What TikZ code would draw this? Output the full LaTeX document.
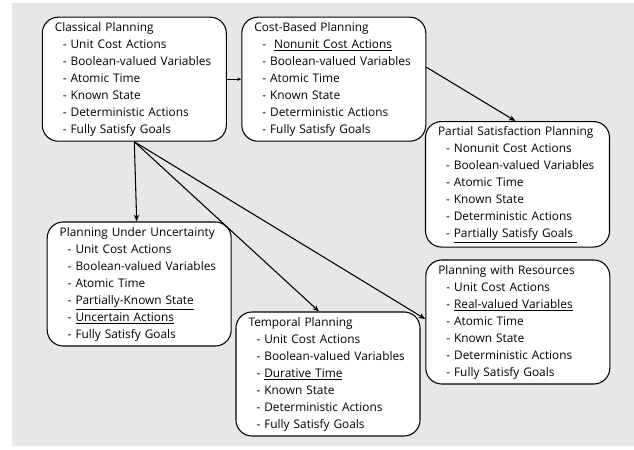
\documentclass[tikz,border=0pt]{standalone}
\usepackage{fontspec}
\setmainfont{Open Sans}
\usetikzlibrary{arrows.meta,calc}
\definecolor{bggray}{HTML}{E6E7E8}
\newcommand{\itm}[1]{\hspace*{6pt}-\ #1}
\tikzset{
  planbox/.style={draw, line width=0.8pt, fill=white, rounded corners=12pt,
    minimum height=93pt, text width=119.2pt, inner xsep=9.4pt, align=left,
    font=\fontsize{8.9}{12.75}\selectfont},
  conn/.style={line width=0.8pt, -{Stealth[length=5pt,width=4pt]}},
  thinconn/.style={line width=0.5pt, -{Stealth[length=3pt,width=2.5pt]}}
}
\begin{document}
\begin{tikzpicture}[x=0.75pt,y=-0.75pt]
\useasboundingbox (0,0) rectangle (634,449);
\fill[bggray] (12,3) rectangle (634,446);

\node[planbox] (cp) at (134.3,79.2) {Classical Planning\\
\itm{Unit Cost Actions}\\
\itm{Boolean-valued Variables}\\
\itm{Atomic Time}\\
\itm{Known State}\\
\itm{Deterministic Actions}\\
\itm{Fully Satisfy Goals}};

\node[planbox] (cb) at (333.8,79.2) {Cost-Based Planning\\
\itm{\ \underline{Nonunit Cost Actions}}\\
\itm{Boolean-valued Variables}\\
\itm{Atomic Time}\\
\itm{Known State}\\
\itm{Deterministic Actions}\\
\itm{Fully Satisfy Goals}};

\node[planbox] (ps) at (517.5,184.3) {Partial Satisfaction Planning\\
\itm{Nonunit Cost Actions}\\
\itm{Boolean-valued Variables}\\
\itm{Atomic Time}\\
\itm{Known State}\\
\itm{Deterministic Actions}\\
\itm{\underline{Partially Satisfy Goals\ }}};

\node[planbox] (pu) at (139.2,284) {Planning Under Uncertainty\\
\itm{Unit Cost Actions}\\
\itm{Boolean-valued Variables}\\
\itm{Atomic Time}\\
\itm{\underline{Partially-Known State}}\\
\itm{\underline{Uncertain Actions}}\\
\itm{Fully Satisfy Goals}};

\node[planbox] (tp) at (328,374) {Temporal Planning\\
\itm{Unit Cost Actions}\\
\itm{Boolean-valued Variables}\\
\itm{\underline{Durative Time}}\\
\itm{Known State}\\
\itm{Deterministic Actions}\\
\itm{Fully Satisfy Goals}};

\node[planbox] (pr) at (517.8,322) {Planning with Resources\\
\itm{Unit Cost Actions}\\
\itm{\underline{Real-valued Variables}}\\
\itm{Atomic Time}\\
\itm{Known State}\\
\itm{Deterministic Actions}\\
\itm{Fully Satisfy Goals}};

\draw[thinconn] (cp.east) -- (cb.west);
\draw[conn] ($(cb.east)+(0,-12)$) -- ($(ps.north)+(-2,0)$);
\draw[conn] (cp.south) -- ($(pu.north)+(-2.5,0)$);
\draw[conn] (cp.south) -- ($(tp.north)+(-9,0)$);
\draw[conn] (cp.south) -- ($(pr.west)+(0,-3)$);
\end{tikzpicture}
\end{document}
